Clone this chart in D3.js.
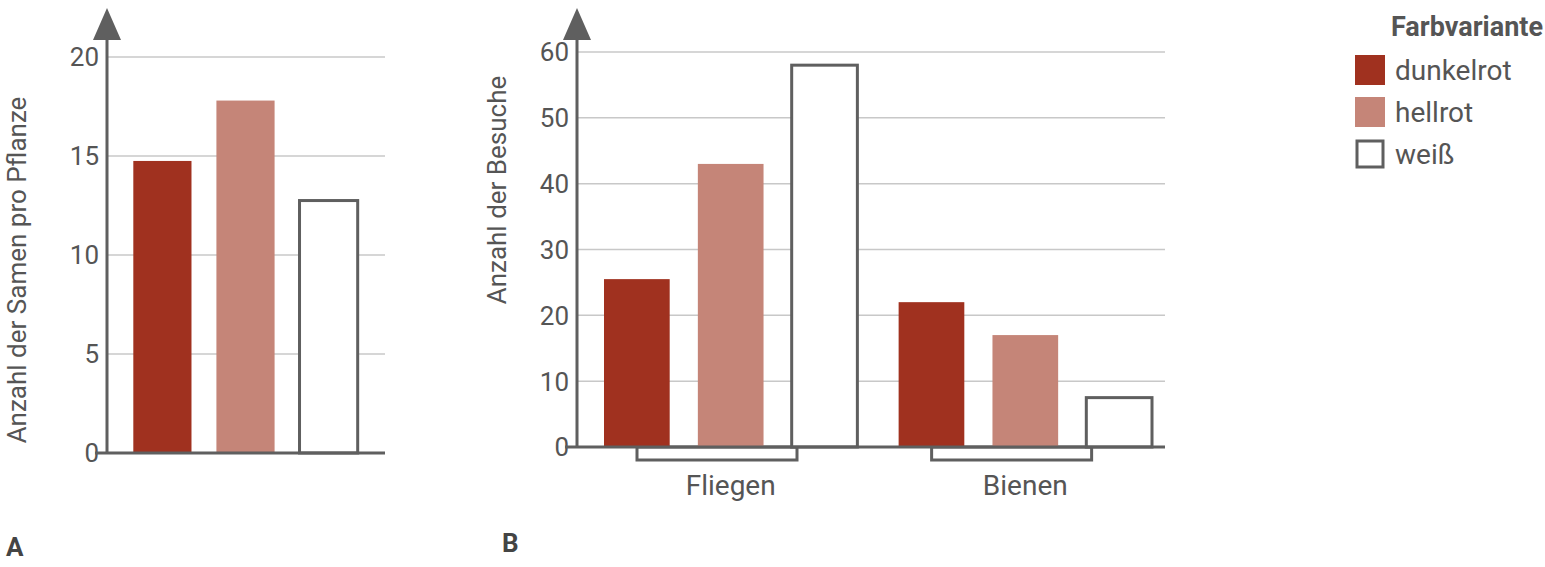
<!DOCTYPE html><html><head><meta charset="utf-8"><script src="https://cdn.jsdelivr.net/npm/d3@7"></script>
<style>body{margin:0;background:#fff}text{font-family:Roboto,sans-serif;fill:#555}</style></head><body>
<svg id="c" width="1545" height="567"></svg>
<script>
const series=["dunkelrot","hellrot","weiß"];
const colors=["#a0311f","#c58578","#ffffff"];
const valuesA=[14.75,17.8,12.75];
const ticksA=[0,5,10,15,20];
const groupsB=["Fliegen","Bienen"];
const valuesB=[[25.5,43,58],[22,17,7.5]];
const ticksB=[0,10,20,30,40,50,60];
const svg=d3.select("#c");const gray="#5f5f5f";
function axis(x0,x1,y,ticks,dom,rng,label,ly){
  const g=svg.append("g");
  ticks.forEach(t=>{if(t>0)g.append("line").attr("x1",x0).attr("x2",x1).attr("y1",y(t)).attr("y2",y(t)).attr("stroke","#c8c8c8").attr("stroke-width",1.5);
    g.append("text").attr("x",x0-8).attr("y",y(t)).attr("dy","0.36em").attr("text-anchor","end").attr("font-size",26).text(t);});
  return g;}
function finish(x0,x1,y0,label,lx,ly){
  svg.append("line").attr("x1",x0-12).attr("x2",x1).attr("y1",y0).attr("y2",y0).attr("stroke",gray).attr("stroke-width",3);
  svg.append("line").attr("x1",x0).attr("x2",x0).attr("y1",y0).attr("y2",30).attr("stroke",gray).attr("stroke-width",3);
  svg.append("path").attr("d",`M${x0-14},40 L${x0},8 L${x0+14},40 Z`).attr("fill",gray);
  svg.append("text").attr("transform",`translate(${lx},${ly}) rotate(-90)`).attr("text-anchor","middle").attr("font-size",26).text(label);}
// Panel A
const yA=d3.scaleLinear().domain([0,20]).range([453,57]);
axis(107,385,yA,ticksA);
const xA=d3.scaleBand().domain(series).range([125,366]).paddingInner(0.3).paddingOuter(0.1);
svg.selectAll(".a").data(valuesA).join("rect").attr("x",(d,i)=>xA(series[i])).attr("width",xA.bandwidth())
 .attr("y",d=>yA(d)).attr("height",d=>yA(0)-yA(d)).attr("fill",(d,i)=>colors[i]).attr("stroke",(d,i)=>i==2?gray:"none").attr("stroke-width",3);
finish(107,385,453,"Anzahl der Samen pro Pflanze",26,270);
svg.append("text").attr("x",6).attr("y",556).attr("font-size",26).attr("font-weight","bold").style("fill","#444").text("A");
// Panel B
const yB=d3.scaleLinear().domain([0,60]).range([447,52]);
axis(577,1165,yB,ticksB);
const x0=d3.scaleBand().domain(groupsB).range([604,1152]).paddingInner(0.14);
const x1=d3.scaleBand().domain(series).range([0,x0.bandwidth()]).paddingInner(0.3);
groupsB.forEach((g,gi)=>{
  const gx=x0(g);
  svg.append("rect").attr("x",gx+x1.bandwidth()/2+ (gi?0:0)+33-x1.bandwidth()/2).attr("y",447).attr("width",160).attr("height",13).attr("fill","none").attr("stroke",gray).attr("stroke-width",3);
  valuesB[gi].forEach((v,i)=>svg.append("rect").attr("x",gx+x1(series[i])).attr("width",x1.bandwidth()).attr("y",yB(v)).attr("height",yB(0)-yB(v))
   .attr("fill",colors[i]).attr("stroke",i==2?gray:"none").attr("stroke-width",3));
  svg.append("text").attr("x",gx+x0.bandwidth()/2).attr("y",495).attr("text-anchor","middle").attr("font-size",28).text(g);
});
finish(577,1165,447,"Anzahl der Besuche",506,190);
svg.append("text").attr("x",502).attr("y",552).attr("font-size",26).attr("font-weight","bold").style("fill","#444").text("B");
// Legend
svg.append("text").attr("x",1543).attr("y",36).attr("text-anchor","end").attr("font-size",27).attr("font-weight","bold").text("Farbvariante");
series.forEach((s,i)=>{const y=55+i*42;
 svg.append("rect").attr("x",i==2?1357:1355).attr("y",i==2?y+2:y).attr("width",i==2?26:30).attr("height",i==2?26:30).attr("fill",colors[i]).attr("stroke",i==2?gray:"none").attr("stroke-width",3);
 svg.append("text").attr("x",1395).attr("y",y+15).attr("dy","0.36em").attr("font-size",28).text(s);});
</script></body></html>
